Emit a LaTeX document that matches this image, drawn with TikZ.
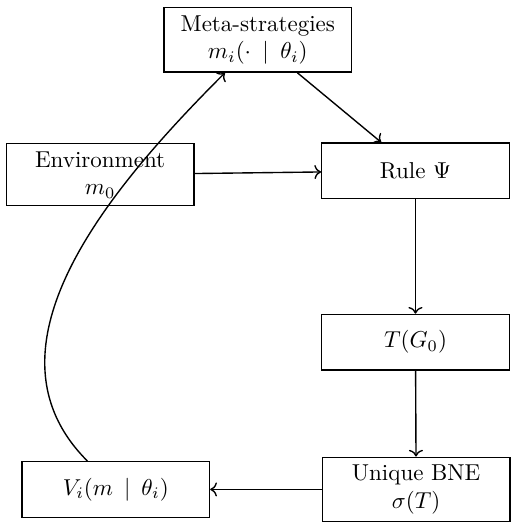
\documentclass[tikz,border=0pt]{standalone}
\usepackage{tikz}
\usetikzlibrary{
    arrows,
    arrows.meta,
    shapes,
    positioning,
    calc
}
\tikzset{
    box/.style={draw, rectangle, text width=2.63cm, align=center, minimum height=0.85cm}
}

\begin{document}
\begin{tikzpicture}[semithick]
                \useasboundingbox (0, 0) rectangle (7.89, -8.10);
                \node [box] (meta) at (3.94, -0.61) {Meta-strategies\\ $m_i(\cdot \mid \theta_i)$};
                \node [box] (env) at (1.53, -2.67) {Environment\\ $m_0$};
                \node [box] (rule) at (6.35, -2.61) {Rule $\Psi$};
                \node [box] (game) at (6.35, -5.23) {$T(G_0)$};
                \node [box] (bne) at (6.36, -7.48) {Unique BNE\\ $\sigma(T)$};
                \node [box] (value) at (1.77, -7.48) {$V_i(m \mid \theta_i)$};
                \draw[->] (meta) -- (rule);
                \draw[->] (env) -- (rule);
                \draw[->] (rule) -- (game);
                \draw[->] (game) -- (bne);
                \draw[->] (bne) -- (value);
                \draw[->] (value) to[out=135, in=225] (meta);
            \end{tikzpicture}
\end{document}
